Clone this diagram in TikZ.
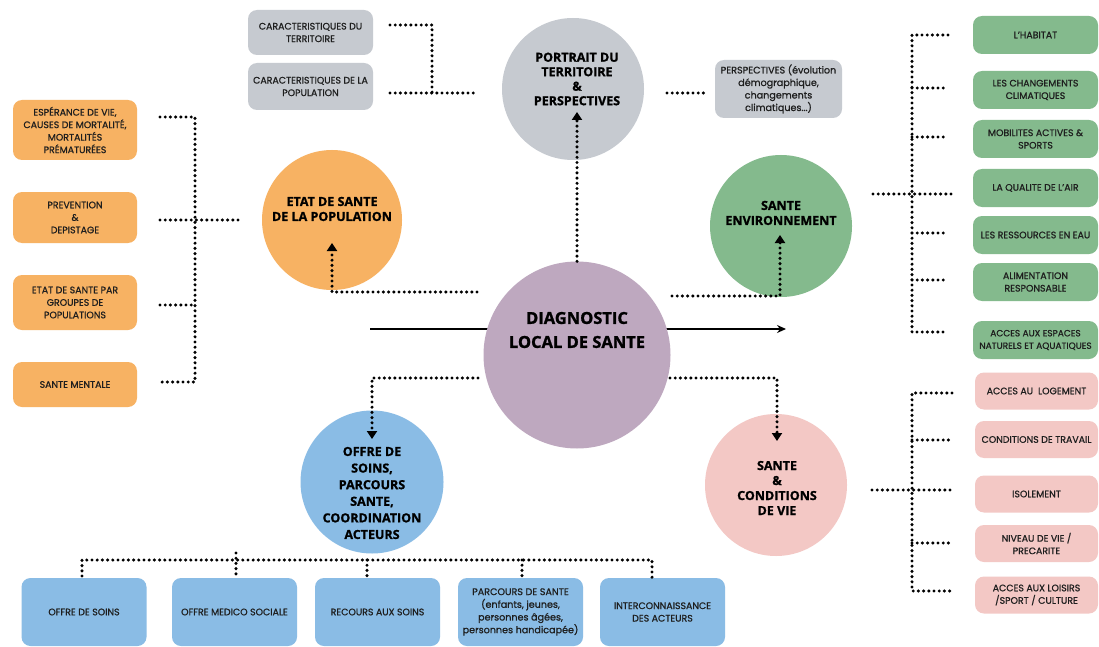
\documentclass[tikz,border=0pt]{standalone}
\usepackage{fontspec}
\setmainfont{Poppins}[FakeBold=0.9]
\newfontfamily\circfont{Open Sans}[BoldFeatures={FakeBold=1.2}]
\usetikzlibrary{arrows.meta,calc}
\definecolor{cgray}{HTML}{C6CAD0}
\definecolor{corange}{HTML}{F7B263}
\definecolor{cgreen}{HTML}{84BA8D}
\definecolor{cpink}{HTML}{F3C8C5}
\definecolor{cblue}{HTML}{8ABCE5}
\definecolor{cpurple}{HTML}{BEA8BF}
\definecolor{ctxt}{HTML}{1E1E1E}
\begin{document}
\begin{tikzpicture}[x=1pt,y=-1pt,
  rbox/.style={rectangle, rounded corners=9pt, minimum width=124pt, align=center,
    font=\fontsize{9.4}{12.5}\selectfont, text=ctxt, inner sep=0pt},
  circ/.style={circle, minimum size=#1, inner sep=0pt},
  ctext/.style={align=center, text=black, font=\circfont\bfseries\fontsize{12.5}{15}\selectfont},
  dots/.style={line width=3.4pt, dash pattern=on 0pt off 5.2pt, line cap=round},
  dotarrow/.style={dots, -{Triangle[width=10pt,length=8pt]}},
]
\useasboundingbox[fill=white] (0,0) rectangle (1099,647);

% ---------- main horizontal arrow (behind the centre circle)
\coordinate (mainL) at (370,329);
\coordinate (mainR) at (786,329);
\draw[line width=1.8pt, -{Stealth[length=9pt,width=8pt]}] (mainL) -- (mainR);

% ---------- circles
\node[circ=187pt, fill=cpurple] (diag) at (577,355) {};
\node[ctext, font=\circfont\bfseries\fontsize{16.5}{24}\selectfont] (diagt) at (577,330) {DIAGNOSTIC\\LOCAL DE SANTE};

\node[circ=142pt, fill=cgray] (port) at (573,89) {};
\node[ctext, font=\circfont\bfseries\fontsize{12.5}{14.5}\selectfont] (portt) at (577,79) {PORTRAIT DU\\TERRITOIRE\\\&\\PERSPECTIVES};

\node[circ=140pt, fill=corange] (etat) at (332,220) {};
\node[ctext] (etatt) at (332,209) {ETAT DE SANTE\\DE LA POPULATION};

\node[circ=142pt, fill=cgreen] (env) at (781,226) {};
\node[ctext] (envt) at (781,213) {SANTE\\ENVIRONNEMENT};

\node[circ=142pt, fill=cpink] (vie) at (776,485) {};
\node[ctext] (viet) at (777,488) {SANTE\\\&\\CONDITIONS\\DE VIE};

\node[circ=143pt, fill=cblue] (offre) at (372,482) {};
\node[ctext, font=\circfont\bfseries\fontsize{12.5}{16.6}\selectfont] (offret) at (372,493) {OFFRE DE\\SOINS,\\PARCOURS\\SANTE,\\COORDINATION\\ACTEURS};

% ---------- gray boxes
\node[rbox, fill=cgray, minimum height=45pt, minimum width=125pt] (g1) at (310.5,32.5) {CARACTERISTIQUES DU\\TERRITOIRE};
\node[rbox, fill=cgray, minimum height=47pt, minimum width=125pt] (g2) at (310.5,86.5) {CARACTERISTIQUES DE LA\\POPULATION};
\node[rbox, fill=cgray, minimum height=58pt, minimum width=127pt, font=\fontsize{9.6}{12.5}\selectfont] (persp) at (778.5,89) {PERSPECTIVES (évolution\\démographique,\\changements\\climatiques...)};

% ---------- orange boxes
\node[rbox, fill=corange, minimum height=60pt] (o1) at (75,130) {ESPÉRANCE DE VIE,\\CAUSES DE MORTALITÉ,\\MORTALITÉS\\PRÉMATURÉES};
\node[rbox, fill=corange, minimum height=51pt] (o2) at (75,217.5) {PREVENTION\\\&\\DEPISTAGE};
\node[rbox, fill=corange, minimum height=55pt] (o3) at (75,302.5) {ETAT DE SANTE PAR\\GROUPES DE\\POPULATIONS};
\node[rbox, fill=corange, minimum height=45pt] (o4) at (75,384.5) {SANTE MENTALE};

% ---------- green boxes
\begin{scope}[every node/.style={rbox, fill=cgreen, minimum height=38pt, minimum width=125pt}]
\node (v1) at (1035.5,35) {L'HABITAT};
\node (v2) at (1035.5,90) {LES CHANGEMENTS\\CLIMATIQUES};
\node (v3) at (1035.5,139) {MOBILITES ACTIVES \&\\SPORTS};
\node (v4) at (1035.5,188) {LA QUALITE DE L'AIR};
\node (v5) at (1035.5,235) {LES RESSOURCES EN EAU};
\node (v6) at (1035.5,282) {ALIMENTATION\\RESPONSABLE};
\node[font=\fontsize{9}{12.5}\selectfont] (v7) at (1035.5,340) {ACCES AUX ESPACES\\NATURELS ET AQUATIQUES};
\end{scope}

% ---------- pink boxes
\begin{scope}[every node/.style={rbox, fill=cpink, minimum height=37pt, minimum width=123pt}]
\node (p1) at (1036.5,391) {ACCES AU\ \ LOGEMENT};
\node (p2) at (1036.5,439.5) {CONDITIONS DE TRAVAIL};
\node (p3) at (1036.5,494) {ISOLEMENT};
\node (p4) at (1036.5,543.5) {NIVEAU DE VIE /\\PRECARITE};
\node (p5) at (1036.5,595) {ACCES AUX LOISIRS\\/SPORT / CULTURE};
\end{scope}

% ---------- blue boxes
\begin{scope}[every node/.style={rbox, fill=cblue, minimum height=68pt, minimum width=125pt}]
\node (b1) at (84,612) {OFFRE DE SOINS};
\node (b2) at (234.5,612) {OFFRE MEDICO SOCIALE};
\node (b3) at (377.5,612) {RECOURS AUX SOINS};
\node[font=\fontsize{9.6}{12.7}\selectfont] (b4) at (520.5,612) {PARCOURS DE SANTE\\(enfants, jeunes,\\personnes âgées,\\personnes handicapée)};
\node (b5) at (662.5,612) {INTERCONNAISSANCE\\DES ACTEURS};
\end{scope}

% ---------- dotted arrows from the centre
\coordinate (portTip) at (577,112);
\draw[dotarrow] (diag.north) -- (portTip);

\coordinate (etatS) at (477,292);
\coordinate (etatTip) at (332,243);
\draw[dotarrow] (etatS) -| (etatTip);

\coordinate (envS) at (672,296);
\coordinate (envTip) at (780,235);
\draw[dotarrow] (envS) -| (envTip);

\coordinate (offS) at (478,378);
\coordinate (offTip) at (372,439);
\draw[dotarrow] (offS) -| (offTip);

\coordinate (vieS) at (670,378);
\coordinate (vieTip) at (777,441);
\draw[dotarrow] (vieS) -| (vieTip);

% ---------- gray brackets
\coordinate (gA) at (390,25);
\coordinate (gB) at (432,25);
\coordinate (gC) at (432,93);
\coordinate (gD) at (390,93);
\coordinate (gE) at (474,93);
\draw[dots] (gA) -- (gB) -- (gC);
\draw[dots] (gD) -- (gE);
\coordinate (pA) at (667,93);
\coordinate (pB) at (707,93);
\draw[dots] (pA) -- (pB);

% ---------- orange bracket
\coordinate (oT) at (195,117);
\coordinate (oB) at (195,382);
\draw[dots] (160,117) coordinate (o1s) -- (oT) -- (oB) -- (160,382) coordinate (o4s);
\draw[dots] (160,220) coordinate (o2s) -- (241,220) coordinate (o2e);
\draw[dots] (160,305) coordinate (o3s) -- (195,305) coordinate (o3e);

% ---------- green bracket
\draw[dots] (948,35) coordinate (v1s) -- (912,35) coordinate (vT) -- (912,332) coordinate (vB) -- (948,332) coordinate (v7s);
\foreach \yy/\nm in {88/v2s,137/v3s,233/v5s,280/v6s}{
  \draw[dots] (912,\yy) -- (948,\yy) coordinate (\nm);
}
\draw[dots] (873,194) coordinate (vL) -- (952,194) coordinate (v4s);

% ---------- pink bracket
\draw[dots] (952,393) coordinate (p1s) -- (912,393) coordinate (pT) -- (912,591) coordinate (pB2) -- (952,591) coordinate (p5s);
\foreach \yy/\nm in {440/p2s,543/p4s}{
  \draw[dots] (912,\yy) -- (952,\yy) coordinate (\nm);
}
\draw[dots] (872,490) coordinate (pL) -- (952,490) coordinate (p3s);

% ---------- bottom bracket
\draw[dots] (82,576) coordinate (b1s) -- (82,560) coordinate (bL) -- (652,560) coordinate (bR) -- (652,578) coordinate (b5s);
\draw[dots] (236,553) coordinate (b2t) -- (236,576) coordinate (b2s);
\draw[dots] (367,560) -- (367,580) coordinate (b3s);
\draw[dots] (522,560) -- (522,578) coordinate (b4s);
\end{tikzpicture}
\end{document}
